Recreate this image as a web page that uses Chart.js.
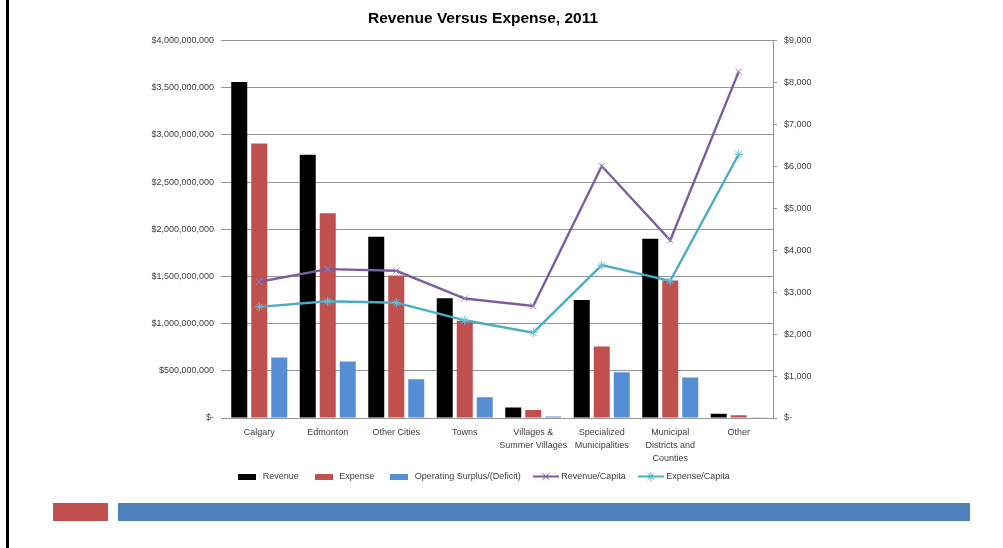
<!DOCTYPE html>
<html>
<head>
<meta charset="utf-8">
<title>Revenue Versus Expense, 2011</title>
<script src="https://cdn.jsdelivr.net/npm/chart.js@4/dist/chart.umd.min.js"></script>
<style>
  html, body { margin: 0; padding: 0; background: #fff; }
  body { width: 1003px; height: 548px; position: relative; overflow: hidden; }
  #wrap { position: absolute; left: 0; top: 0; width: 966px; height: 548px; }
  #edge { position: absolute; left: 6px; top: 0; width: 3px; height: 548px; background: #000; }
  #barRed { position: absolute; left: 53px; top: 503px; width: 55px; height: 18px; background: #C0504D; }
  #barBlue { position: absolute; left: 118px; top: 503px; width: 852px; height: 18px; background: #4F81BD; }
</style>
</head>
<body>
<div id="edge"></div>
<div id="wrap"><canvas id="myChart"></canvas></div>
<div id="barRed"></div>
<div id="barBlue"></div>

<script>
var categories = [
  'Calgary', 'Edmonton', 'Other Cities', 'Towns',
  ['Villages &', 'Summer Villages'], ['Specialized', 'Municipalities'],
  ['Municipal', 'Districts and', 'Counties'], 'Other'
];

// dollars, left axis
var revenue  = [3560000000, 2790000000, 1920000000, 1270000000, 110000000, 1250000000, 1900000000, 46000000];
var expense  = [2910000000, 2170000000, 1510000000, 1030000000,  85000000,  757000000, 1457000000, 30000000];
var surplus  = [ 640000000,  600000000,  410000000,  220000000,  15000000,  485000000,  430000000,  7000000];

// dollars per person, right axis
var revenuePerCapita = [3250, 3550, 3510, 2850, 2670, 6010, 4240, 8260];
var expensePerCapita = [2650, 2785, 2750, 2330, 2035, 3645, 3270, 6290];

var leftTicks  = { max: 4000000000, step: 500000000 };
var rightTicks = { max: 9000, step: 1000 };

var black = '#000000', red = '#C0504D', blue = '#558ED5', purple = '#7A5CA3', teal = '#4BACC6';
var textColor = '#404040', gridColor = '#969696';
var fontFamily = "'Liberation Sans', Arial, sans-serif";

function money(v) {
  if (v === 0) return '$-';
  return '$' + Number(v).toLocaleString('en-US');
}

// small legend glyphs: a flat box for bars, a short line with its marker for lines
function boxIcon(color) {
  var c = document.createElement('canvas');
  c.width = 18; c.height = 6;
  var g = c.getContext('2d');
  g.fillStyle = color;
  g.fillRect(0, 0, 18, 6);
  return c;
}
function lineIcon(color, star) {
  var c = document.createElement('canvas');
  c.width = 26; c.height = 10;
  var g = c.getContext('2d');
  g.strokeStyle = color;
  g.lineWidth = 2;
  g.beginPath(); g.moveTo(0, 5); g.lineTo(26, 5); g.stroke();
  g.lineWidth = 1;
  g.beginPath();
  g.moveTo(9.5, 1.5); g.lineTo(16.5, 8.5);
  g.moveTo(16.5, 1.5); g.lineTo(9.5, 8.5);
  if (star) { g.moveTo(13, 0.5); g.lineTo(13, 9.5); }
  g.stroke();
  return c;
}
var legendIcons = [boxIcon(black), boxIcon(red), boxIcon(blue), lineIcon(purple, false), lineIcon(teal, true)];

// pull the legend row up closer to the category labels
var legendNudge = {
  id: 'legendNudge',
  afterLayout: function (chart) {
    chart.legend.top -= 9;
    chart.legend.bottom -= 9;
  }
};

var ctx = document.getElementById('myChart');
var myChart = new Chart(ctx, {
  type: 'bar',
  plugins: [legendNudge],
  data: {
    labels: categories,
    datasets: [
      { label: 'Revenue', data: revenue, backgroundColor: black, yAxisID: 'y', order: 1,
        categoryPercentage: 0.876, barPercentage: 0.8 },
      { label: 'Expense', data: expense, backgroundColor: red, yAxisID: 'y', order: 1,
        categoryPercentage: 0.876, barPercentage: 0.8 },
      { label: 'Operating Surplus/(Deficit)', data: surplus, backgroundColor: blue, yAxisID: 'y', order: 1,
        categoryPercentage: 0.876, barPercentage: 0.8 },
      { type: 'line', label: 'Revenue/Capita', data: revenuePerCapita, yAxisID: 'y1', order: 0,
        borderColor: purple, backgroundColor: purple, borderWidth: 2.4, tension: 0,
        pointStyle: 'crossRot', pointRadius: 4.5, pointBorderWidth: 1, pointBorderColor: '#9a84c0' },
      { type: 'line', label: 'Expense/Capita', data: expensePerCapita, yAxisID: 'y1', order: 0,
        borderColor: teal, backgroundColor: teal, borderWidth: 2.4, tension: 0,
        pointStyle: 'star', pointRadius: 4.5, pointBorderWidth: 1, pointBorderColor: '#6cc0d6' }
    ]
  },
  options: {
    responsive: true,
    maintainAspectRatio: false,
    animation: false,
    layout: { padding: { left: 0, right: 0, top: 0, bottom: 48 } },
    plugins: {
      title: {
        display: true,
        text: 'Revenue Versus Expense, 2011',
        color: '#000',
        font: { family: fontFamily, size: 15.5, weight: 'bold' },
        padding: { top: 9, bottom: 13 }
      },
      legend: {
        position: 'bottom',
        labels: {
          color: textColor,
          font: { family: fontFamily, size: 9 },
          usePointStyle: true,
          pointStyleWidth: 22,
          padding: 14,
          generateLabels: function (chart) {
            return chart.data.datasets.map(function (ds, i) {
              return { text: ds.label, datasetIndex: i, pointStyle: legendIcons[i],
                       fillStyle: ds.backgroundColor, strokeStyle: ds.borderColor || ds.backgroundColor,
                       lineWidth: 0, fontColor: textColor, hidden: false };
            });
          }
        }
      },
      tooltip: { enabled: false }
    },
    scales: {
      x: {
        grid: { display: false, drawTicks: false, tickLength: 0 },
        border: { display: true, color: gridColor },
        ticks: { color: textColor, font: { family: fontFamily, size: 9, lineHeight: 1.45 },
                 padding: 8, maxRotation: 0, autoSkip: false },
        afterFit: function (scale) { scale.height = 49; }
      },
      y: {
        position: 'left',
        min: 0, max: leftTicks.max,
        grid: { color: gridColor, tickLength: 4 },
        border: { display: false },
        ticks: { stepSize: leftTicks.step, color: textColor, font: { family: fontFamily, size: 9 },
                 padding: 7, callback: function (v) { return money(v); } },
        afterFit: function (scale) { scale.width = 225; }
      },
      y1: {
        position: 'right',
        min: 0, max: rightTicks.max,
        grid: { drawOnChartArea: false, color: gridColor, tickLength: 4 },
        border: { display: true, color: gridColor },
        ticks: { stepSize: rightTicks.step, color: textColor, font: { family: fontFamily, size: 9 },
                 padding: 7, callback: function (v) { return money(v); } },
        afterFit: function (scale) { scale.width = 193; }
      }
    }
  }
});
</script>
</body>
</html>
